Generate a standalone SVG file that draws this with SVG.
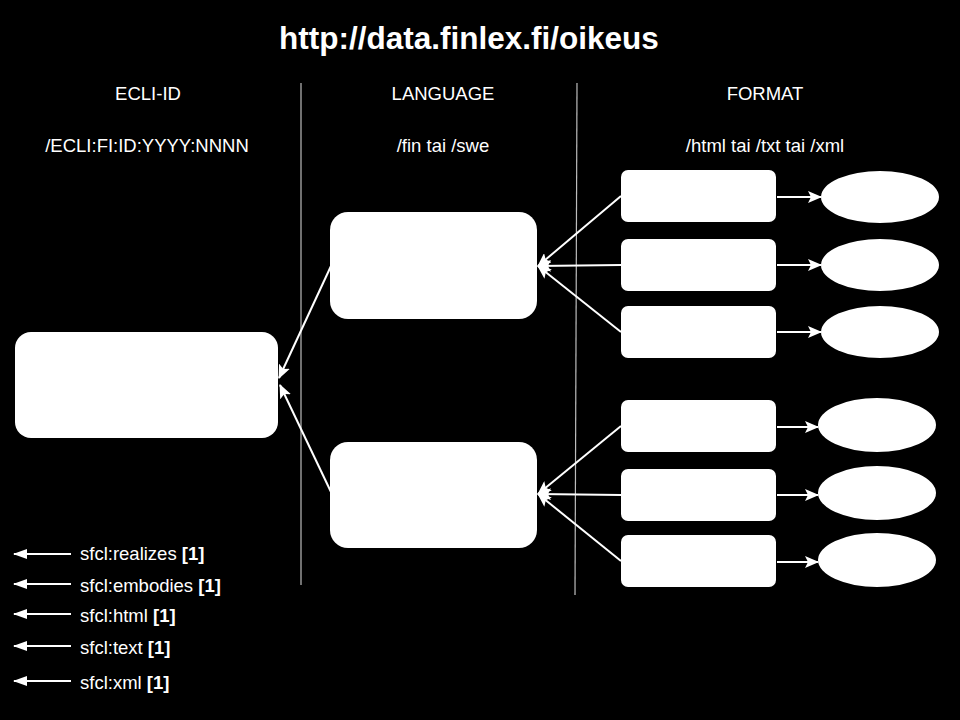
<svg xmlns="http://www.w3.org/2000/svg" width="960" height="720" viewBox="0 0 960 720">
<style>
.t{font-family:"Liberation Sans",Arial,sans-serif;fill:#fff;font-size:18.5px}
.h{text-anchor:middle}
.b{font-weight:bold}
.box{fill:#fff}
.c{stroke:#fff;stroke-width:2;fill:none}
.sep{stroke:#bdbdbd;stroke-width:1.2}
</style>
<defs>
<marker id="ah" viewBox="0 0 14 12" refX="13" refY="6" markerWidth="14" markerHeight="12" markerUnits="userSpaceOnUse" orient="auto">
<path d="M0,0 L14,6 L0,12 L3,6 Z" fill="#fff"/>
</marker>
<marker id="lh" viewBox="0 0 14 10" refX="13" refY="5" markerWidth="14" markerHeight="10" markerUnits="userSpaceOnUse" orient="auto">
<path d="M0,0 L14,5 L0,10 Z" fill="#fff"/>
</marker>
</defs>
<rect width="960" height="720" fill="#000"/>
<text class="t h b" x="469" y="49" style="font-size:31.5px">http://data.finlex.fi/oikeus</text>
<g id="headers">
<text class="t h" x="148" y="100">ECLI-ID</text>
<text class="t h" x="147" y="152">/ECLI:FI:ID:YYYY:NNNN</text>
<text class="t h" x="443" y="100">LANGUAGE</text>
<text class="t h" x="443" y="152">/fin tai /swe</text>
<text class="t h" x="765" y="100">FORMAT</text>
<text class="t h" x="765" y="152">/html tai /txt tai /xml</text>
</g>
<g id="separators">
<line class="sep" x1="301" y1="83" x2="301" y2="585"/>
<line class="sep" x1="577" y1="83" x2="575" y2="595"/>
</g>
<g id="ecli"><rect class="box" x="15" y="332" width="263" height="106" rx="16"/></g>
<g id="lang-fin"><rect class="box" x="330" y="212" width="207" height="107" rx="18"/></g>
<g id="lang-swe"><rect class="box" x="330" y="442" width="207" height="106" rx="18"/></g>
<g id="fmt-fin-1"><rect class="box" x="621" y="170" width="155" height="52" rx="7"/></g>
<g id="fmt-fin-2"><rect class="box" x="621" y="239" width="155" height="52" rx="7"/></g>
<g id="fmt-fin-3"><rect class="box" x="621" y="306" width="155" height="52" rx="7"/></g>
<g id="fmt-swe-1"><rect class="box" x="621" y="400" width="155" height="52" rx="7"/></g>
<g id="fmt-swe-2"><rect class="box" x="621" y="469" width="155" height="52" rx="7"/></g>
<g id="fmt-swe-3"><rect class="box" x="621" y="535" width="155" height="52" rx="7"/></g>
<g id="doc-fin-1"><ellipse class="box" cx="880" cy="197" rx="59" ry="26"/></g>
<g id="doc-fin-2"><ellipse class="box" cx="880" cy="265" rx="59" ry="26"/></g>
<g id="doc-fin-3"><ellipse class="box" cx="880" cy="332" rx="59" ry="26"/></g>
<g id="doc-swe-1"><ellipse class="box" cx="877" cy="425" rx="59" ry="27"/></g>
<g id="doc-swe-2"><ellipse class="box" cx="877" cy="493" rx="59" ry="27"/></g>
<g id="doc-swe-3"><ellipse class="box" cx="877" cy="560" rx="59" ry="27"/></g>
<g id="connectors">
<line class="c" x1="331" y1="266" x2="279" y2="378" marker-end="url(#ah)"/>
<line class="c" x1="331" y1="492" x2="280" y2="385" marker-end="url(#ah)"/>
<line class="c" x1="621" y1="196" x2="538" y2="266" marker-end="url(#ah)"/>
<line class="c" x1="621" y1="265" x2="538" y2="266" marker-end="url(#ah)"/>
<line class="c" x1="621" y1="332" x2="538" y2="266" marker-end="url(#ah)"/>
<line class="c" x1="621" y1="426" x2="538" y2="494" marker-end="url(#ah)"/>
<line class="c" x1="621" y1="495" x2="538" y2="494" marker-end="url(#ah)"/>
<line class="c" x1="621" y1="561" x2="538" y2="494" marker-end="url(#ah)"/>
<line class="c" x1="777" y1="197" x2="821" y2="197" marker-end="url(#ah)"/>
<line class="c" x1="777" y1="265" x2="821" y2="265" marker-end="url(#ah)"/>
<line class="c" x1="777" y1="332" x2="821" y2="332" marker-end="url(#ah)"/>
<line class="c" x1="777" y1="427" x2="818" y2="427" marker-end="url(#ah)"/>
<line class="c" x1="777" y1="495" x2="818" y2="495" marker-end="url(#ah)"/>
<line class="c" x1="777" y1="562" x2="818" y2="562" marker-end="url(#ah)"/>
</g>
<g id="legend">
<line class="c" x1="71" y1="554" x2="14" y2="554" marker-end="url(#lh)"/>
<line class="c" x1="71" y1="584" x2="14" y2="584" marker-end="url(#lh)"/>
<line class="c" x1="71" y1="614" x2="14" y2="614" marker-end="url(#lh)"/>
<line class="c" x1="71" y1="646" x2="14" y2="646" marker-end="url(#lh)"/>
<line class="c" x1="71" y1="681" x2="14" y2="681" marker-end="url(#lh)"/>
<text class="t" x="80" y="560">sfcl:realizes <tspan class="b">[1]</tspan></text>
<text class="t" x="80" y="592">sfcl:embodies <tspan class="b">[1]</tspan></text>
<text class="t" x="80" y="622">sfcl:html <tspan class="b">[1]</tspan></text>
<text class="t" x="80" y="654">sfcl:text <tspan class="b">[1]</tspan></text>
<text class="t" x="80" y="689">sfcl:xml <tspan class="b">[1]</tspan></text>
</g>
</svg>
